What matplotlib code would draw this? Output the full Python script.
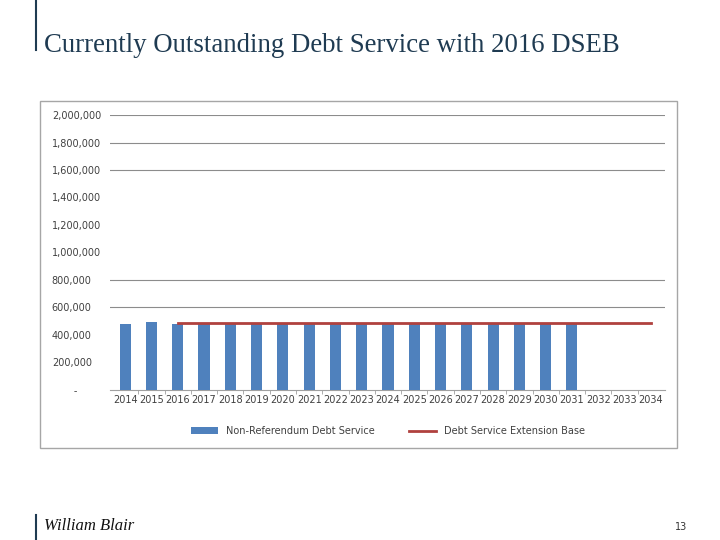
import matplotlib.pyplot as plt
import numpy as np
from matplotlib.patches import Rectangle
from matplotlib.lines import Line2D

years = [str(y) for y in range(2014, 2035)]
debt_service = [480000, 495000, 482000] + [482000] * 15 + [0, 0, 0]
dseb_years = years[2:]
dseb_value = [486000] * len(dseb_years)

yticks = [0, 200000, 400000, 600000, 800000, 1000000, 1200000,
          1400000, 1600000, 1800000, 2000000]
ytick_labels = ['       -'] + ['{:,}'.format(v) for v in yticks[1:]]

fig = plt.figure(figsize=(7.2, 5.4), dpi=100)

# chart frame
fig.patches.append(Rectangle((40 / 720, 1 - 448 / 540), 637 / 720, 347 / 540,
                             transform=fig.transFigure, fill=False,
                             edgecolor='#a6a6a6', linewidth=1.0))

ax = fig.add_axes([0.153, 0.278, 0.771, 0.509])
x = np.arange(len(years))
bars = ax.bar(x, debt_service, width=0.42, color='#4f81bd', zorder=3)
xl = [years.index(y) for y in dseb_years]
line, = ax.plot(xl, dseb_value, color='#b0413e', linewidth=2, zorder=4)

ax.set_xlim(-0.57, len(years) - 0.45)
ax.set_ylim(0, 2000000)
ax.set_yticks(yticks)
ax.set_yticklabels(ytick_labels)
ax.set_xticks(x)
ax.set_xticklabels(years)
ax.set_xticks(x[:-1] + 0.5, minor=True)
ax.tick_params(axis='x', which='major', length=0, labelsize=7, colors='#404040', pad=4)
ax.tick_params(axis='x', which='minor', length=3, color='#a0a0a0')
ax.tick_params(axis='y', length=0, labelsize=7, colors='#404040', pad=42)
for lab in ax.get_yticklabels():
    lab.set_horizontalalignment('left')
for v in [600000, 800000, 1600000, 1800000, 2000000]:
    ax.axhline(v, color='#8c8c8c', linewidth=0.8, zorder=1)
for s in ['top', 'right', 'left']:
    ax.spines[s].set_visible(False)
ax.spines['bottom'].set_color('#a0a0a0')

ax.legend([bars, line], ['Non-Referendum Debt Service', 'Debt Service Extension Base'],
          loc='upper center', bbox_to_anchor=(0.5, -0.1), ncol=2, frameon=False,
          fontsize=7, labelcolor='#404040', handlelength=2.8, columnspacing=3.5)

fig.text(44 / 720, 1 - 45 / 540, 'Currently Outstanding Debt Service with 2016 DSEB',
         fontsize=19.3, family='Liberation Serif', color='#1f3b52', va='center', ha='left')
fig.add_artist(Line2D([36 / 720, 36 / 720], [1 - 50 / 540, 1.0], color='#1f3b52', linewidth=1.5))
fig.add_artist(Line2D([36 / 720, 36 / 720], [0, 1 - 515 / 540], color='#1f3b52', linewidth=1.5))
fig.text(44 / 720, 1 - 526 / 540, 'William Blair', fontsize=12, family='Liberation Serif',
         style='italic', color='#111111', va='center', ha='left')
fig.text(687 / 720, 1 - 527 / 540, '13', fontsize=7, color='#333333', va='center', ha='right')

fig.savefig('out.png', dpi=100)
